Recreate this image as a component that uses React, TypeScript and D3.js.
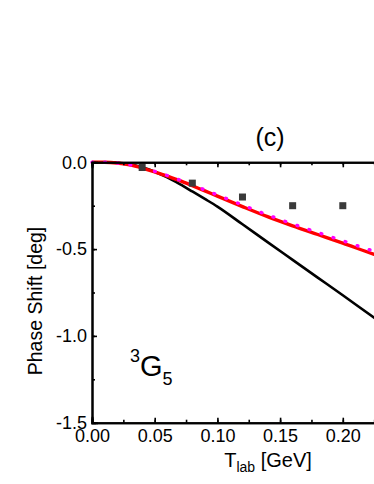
import * as d3 from 'd3';
import { useRef, useEffect } from 'react';

// energies (GeV) for the curves
const tGrid = [0, 0.01, 0.02, 0.03, 0.04, 0.05, 0.06, 0.07, 0.08, 0.09, 0.1, 0.12, 0.14, 0.16, 0.18, 0.2, 0.225, 0.25];
const blackCurve = [0, 0, -0.003, -0.012, -0.029, -0.054, -0.087, -0.126, -0.168, -0.211, -0.255, -0.357, -0.46, -0.562, -0.664, -0.766, -0.895, -1.02];
const redCurve = [0, 0, -0.004, -0.015, -0.033, -0.055, -0.08, -0.106, -0.135, -0.165, -0.195, -0.255, -0.313, -0.366, -0.416, -0.466, -0.53, -0.59];
const magentaCurve = [0, 0, -0.004, -0.014, -0.031, -0.052, -0.076, -0.102, -0.13, -0.159, -0.188, -0.246, -0.303, -0.355, -0.404, -0.452, -0.513, -0.57];

// data points (squares)
const dataT = [0.04, 0.08, 0.12, 0.16, 0.2];
const dataPhase = [-0.03, -0.12, -0.2, -0.25, -0.25];

const xTicks = [0, 0.05, 0.1, 0.15, 0.2, 0.25];
const xTickLabels = ['0.00', '0.05', '0.10', '0.15', '0.20', ''];
const yTicks = [0, -0.5, -1.0, -1.5];
const yTickLabels = ['0.0', '-0.5', '-1.0', '-1.5'];

const W = 374;
const H = 484;
const font = 'Liberation Sans, Arial, sans-serif';

const App = () => {
  const gRef = useRef(null);

  useEffect(() => {
    const root = d3.select(gRef.current);
    root.selectAll('*').remove();

    const x = d3.scaleLinear().domain([0, 0.25]).range([92, 405.5]);
    const y = d3.scaleLinear().domain([-1.5, 0]).range([422.7, 162.3]);

    const line = d3
      .line()
      .curve(d3.curveMonotoneX)
      .x((d) => x(d[0]))
      .y((d) => y(d[1]));

    root
      .append('path')
      .attr('d', line(tGrid.map((t, i) => [t, blackCurve[i]])))
      .attr('fill', 'none')
      .attr('stroke', '#000')
      .attr('stroke-width', 2.6);

    root
      .append('path')
      .attr('d', line(tGrid.map((t, i) => [t, redCurve[i]])))
      .attr('fill', 'none')
      .attr('stroke', '#ff0000')
      .attr('stroke-width', 3.4);

    // dotted magenta line on top of the red one
    root
      .append('path')
      .attr('d', line(tGrid.map((t, i) => [t, magentaCurve[i]])))
      .attr('fill', 'none')
      .attr('stroke', '#ff00ff')
      .attr('stroke-width', 3.4)
      .attr('stroke-linecap', 'round')
      .attr('stroke-dasharray', '0.8,11.9');

    root
      .selectAll('rect.pt')
      .data(dataT)
      .join('rect')
      .attr('class', 'pt')
      .attr('x', (d) => x(d) - 3.5)
      .attr('y', (d, i) => y(dataPhase[i]) - 3.5)
      .attr('width', 7)
      .attr('height', 7)
      .attr('fill', '#3a3a3a');

    // axes, ticks pointing inward
    const styleAxis = (g) => {
      g.select('.domain').attr('stroke', '#000').attr('stroke-width', 2).attr('stroke-linecap', 'square');
      g.selectAll('.tick line').attr('stroke', '#000').attr('stroke-width', 1.6);
      g.selectAll('.tick text').attr('font-family', font).attr('font-size', 18).attr('fill', '#000');
    };

    const minorX = d3.range(0, 0.2501, 0.025);
    const minorY = d3.range(-1.5, 0.001, 0.25);

    root
      .append('g')
      .attr('transform', `translate(0,${y(-1.5)})`)
      .call(d3.axisBottom(x).tickValues(minorX).tickSize(-3).tickFormat(() => ''))
      .call(styleAxis);
    root
      .append('g')
      .attr('transform', `translate(0,${y(-1.5)})`)
      .call(
        d3
          .axisBottom(x)
          .tickValues(xTicks)
          .tickSize(-5)
          .tickPadding(7)
          .tickFormat((d, i) => xTickLabels[i])
      )
      .call(styleAxis);

    root
      .append('g')
      .attr('transform', `translate(0,${y(0)})`)
      .call(d3.axisTop(x).tickValues(minorX).tickSize(-3).tickFormat(() => ''))
      .call(styleAxis);
    root
      .append('g')
      .attr('transform', `translate(0,${y(0)})`)
      .call(d3.axisTop(x).tickValues(xTicks).tickSize(-5).tickFormat(() => ''))
      .call(styleAxis);

    root
      .append('g')
      .attr('transform', `translate(${x(0)},0)`)
      .call(d3.axisLeft(y).tickValues(minorY).tickSize(-3).tickFormat(() => ''))
      .call(styleAxis);
    root
      .append('g')
      .attr('transform', `translate(${x(0)},0)`)
      .call(
        d3
          .axisLeft(y)
          .tickValues(yTicks)
          .tickSize(-5)
          .tickPadding(5)
          .tickFormat((d, i) => yTickLabels[i])
      )
      .call(styleAxis);
  }, []);

  return (
    <svg width={W} height={H} style={{ position: 'absolute', left: 0, top: 0, background: '#fff' }}>
      <g ref={gRef} />
      <text x={270} y={146} textAnchor="middle" fontFamily={font} fontSize={25}>
        (c)
      </text>
      <text transform="translate(42,301) rotate(-90)" textAnchor="middle" fontFamily={font} fontSize={19.5}>
        Phase Shift [deg]
      </text>
      <text x={268} y={467} textAnchor="middle" fontFamily={font} fontSize={20}>
        T<tspan fontSize={14} dy={5}>lab</tspan>
        <tspan dy={-5}> [GeV]</tspan>
      </text>
      <text x={130} y={376} fontFamily={font} fontSize={29}>
        <tspan fontSize={18} dy={-14}>3</tspan>
        <tspan dy={14}>G</tspan>
        <tspan fontSize={18} dy={9}>5</tspan>
      </text>
    </svg>
  );
};

export default App;
